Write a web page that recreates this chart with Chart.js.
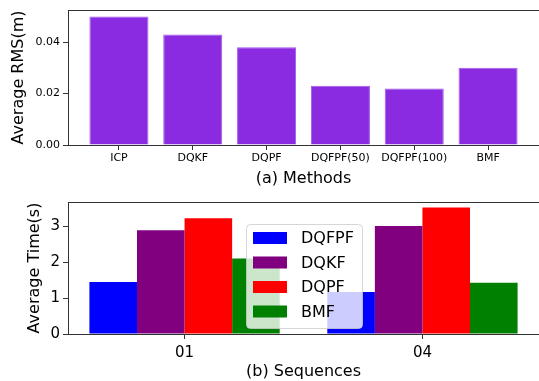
<!DOCTYPE html>
<html>
<head>
<meta charset="utf-8">
<script src="https://cdn.jsdelivr.net/npm/chart.js@4"></script>
<style>
  body { margin: 0; background: #fff; }
  #wrap { position: relative; width: 539px; height: 381px; }
  canvas { position: absolute; left: 0; }
  #rms_chart { top: 0; }
  #time_chart { top: 190px; }
</style>
</head>
<body>
<div id="wrap">
  <canvas id="rms_chart" width="539" height="190"></canvas>
  <canvas id="time_chart" width="539" height="191"></canvas>
</div>
<script>
const METHODS = ["ICP", "DQKF", "DQPF", "DQFPF(50)", "DQFPF(100)", "BMF"];
const RMS = [0.050, 0.043, 0.038, 0.023, 0.022, 0.030];
const RMS_TICKS = [0, 0.02, 0.04];

const SEQUENCES = ["01", "04"];
const SERIES = ["DQFPF", "DQKF", "DQPF", "BMF"];
const TIME_DQFPF = [1.45, 1.17];
const TIME_DQKF = [2.89, 3.01];
const TIME_DQPF = [3.22, 3.52];
const TIME_BMF = [2.10, 1.43];
const TIME_TICKS = [0, 1, 2, 3];
const SERIES_COLORS = ["#0000ff", "#800080", "#ff0000", "#008000"];

const FONT = "'DejaVu Sans', sans-serif";
const SPINE = "#333";

// top spine like matplotlib
const topSpine = {
  id: 'topSpine',
  afterDatasetsDraw(chart) {
    const ca = chart.chartArea, ctx = chart.ctx;
    ctx.save();
    ctx.strokeStyle = SPINE;
    ctx.lineWidth = 1;
    ctx.beginPath();
    ctx.moveTo(ca.left, ca.top + 0.5);
    ctx.lineTo(ca.right, ca.top + 0.5);
    ctx.stroke();
    ctx.restore();
  }
};

// legend drawn inside the plot
const innerLegend = {
  id: 'innerLegend',
  afterDatasetsDraw(chart) {
    const ca = chart.chartArea, ctx = chart.ctx;
    const x = ca.left + 178, y = ca.top + 22, w = 116, h = 104, r = 4;
    ctx.save();
    ctx.fillStyle = 'rgba(255,255,255,0.8)';
    ctx.strokeStyle = 'rgba(204,204,204,0.8)';
    ctx.lineWidth = 1;
    ctx.beginPath();
    ctx.roundRect(x + 0.5, y + 0.5, w, h, r);
    ctx.fill();
    ctx.stroke();
    ctx.font = "16px " + FONT;
    ctx.textBaseline = 'middle';
    chart.data.datasets.forEach((ds, i) => {
      const cy = y + 14 + i * 24.5;
      ctx.fillStyle = ds.backgroundColor;
      ctx.fillRect(x + 7, cy - 6, 34, 12);
      ctx.fillStyle = '#000';
      ctx.fillText(ds.label, x + 55, cy + 1);
    });
    ctx.restore();
  }
};

function ticksAt(values) {
  return axis => { axis.ticks = values.map(v => ({ value: v })); };
}

new Chart(document.getElementById('rms_chart'), {
  type: 'bar',
  data: {
    datasets: [{
      data: RMS.map((v, i) => ({ x: i, y: v })),
      backgroundColor: '#8a2be2',
      borderColor: '#a15ae8',
      borderWidth: 1,
      categoryPercentage: 0.8,
      barPercentage: 1.0
    }]
  },
  options: {
    responsive: false,
    animation: false,
    devicePixelRatio: 1,
    layout: { padding: { top: 10, right: 0, left: 0, bottom: 0 } },
    plugins: { legend: { display: false }, tooltip: { enabled: false } },
    scales: {
      x: {
        type: 'linear',
        offset: false,
        min: -0.69,
        max: 5.69,
        afterBuildTicks: ticksAt(METHODS.map((_, i) => i)),
        afterFit: s => { s.height = 45; },
        grid: { display: true, offset: false, drawOnChartArea: false, drawTicks: true, tickLength: 5, color: SPINE },
        border: { color: SPINE, width: 1 },
        ticks: {
          autoSkip: false, maxRotation: 0, padding: 2, color: '#000',
          font: { family: FONT, size: 11 },
          callback: v => METHODS[v]
        },
        title: { display: true, text: '(a) Methods', color: '#000', font: { family: FONT, size: 16 }, padding: { top: 0, bottom: 2 } }
      },
      y: {
        min: 0,
        max: 0.0525,
        afterBuildTicks: ticksAt(RMS_TICKS),
        afterFit: s => { s.width = 68; },
        grid: { display: true, drawOnChartArea: false, drawTicks: true, tickLength: 5, color: SPINE },
        border: { color: SPINE, width: 1 },
        ticks: { padding: 3, color: '#000', font: { family: FONT, size: 11 }, callback: v => v.toFixed(2) },
        title: { display: true, text: 'Average RMS(m)', color: '#000', font: { family: FONT, size: 16 }, padding: { top: 9, bottom: 0 } }
      }
    }
  },
  plugins: [topSpine]
});

const TIME_SERIES = [TIME_DQFPF, TIME_DQKF, TIME_DQPF, TIME_BMF];

new Chart(document.getElementById('time_chart'), {
  type: 'bar',
  data: {
    datasets: SERIES.map((name, k) => ({
      label: name,
      data: TIME_SERIES[k].map((v, i) => ({ x: i, y: v })),
      backgroundColor: SERIES_COLORS[k],
      borderWidth: 0,
      categoryPercentage: 0.8,
      barPercentage: 1.0
    }))
  },
  options: {
    responsive: false,
    animation: false,
    devicePixelRatio: 1,
    layout: { padding: { top: 9, right: 0, left: 0, bottom: 0 } },
    plugins: { legend: { display: false }, tooltip: { enabled: false } },
    scales: {
      x: {
        type: 'linear',
        offset: false,
        min: -0.49,
        max: 1.49,
        afterBuildTicks: ticksAt(SEQUENCES.map((_, i) => i)),
        afterFit: s => { s.height = 47; },
        grid: { display: true, offset: false, drawOnChartArea: false, drawTicks: true, tickLength: 5, color: SPINE },
        border: { color: SPINE, width: 1 },
        ticks: {
          autoSkip: false, maxRotation: 0, padding: 5, color: '#000',
          font: { family: FONT, size: 15 },
          callback: v => SEQUENCES[v]
        },
        title: { display: true, text: '(b) Sequences', color: '#000', font: { family: FONT, size: 16 }, padding: { top: 1, bottom: 0 } }
      },
      y: {
        min: 0,
        max: 3.675,
        afterBuildTicks: ticksAt(TIME_TICKS),
        afterFit: s => { s.width = 68; },
        grid: { display: true, drawOnChartArea: false, drawTicks: true, tickLength: 5, color: SPINE },
        border: { color: SPINE, width: 1 },
        ticks: { padding: 3, color: '#000', font: { family: FONT, size: 15 }, callback: v => String(v) },
        title: { display: true, text: 'Average Time(s)', color: '#000', font: { family: FONT, size: 16 }, padding: { top: 25, bottom: 0 } }
      }
    }
  },
  plugins: [topSpine, innerLegend]
});
</script>
</body>
</html>
